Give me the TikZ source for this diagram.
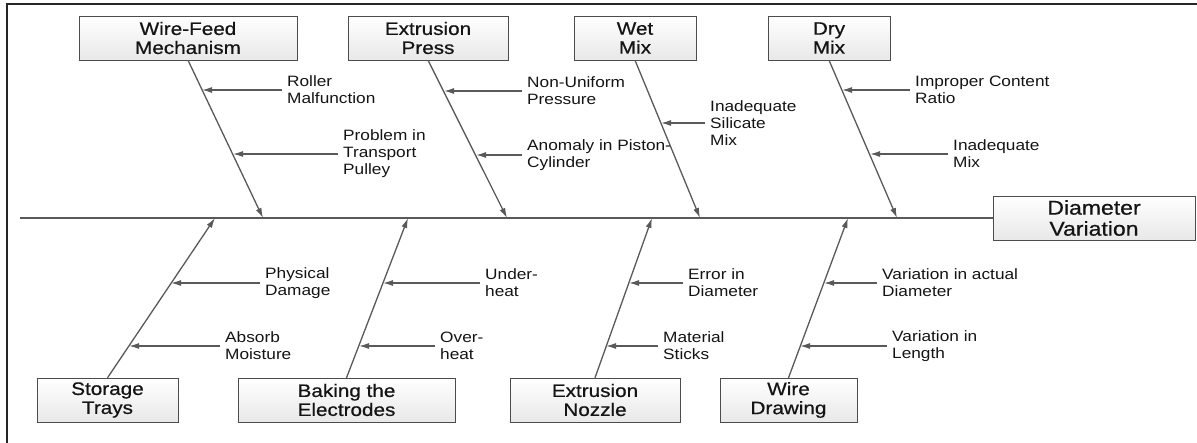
\documentclass[tikz,border=0pt]{standalone}
\usepackage{fontspec}
\newfontfamily\fishfont[FakeStretch=1.15]{Liberation Sans}
\newfontfamily\boxfont[FakeStretch=1.15,FakeBold=0.6]{Liberation Sans}
\usetikzlibrary{arrows.meta}

\tikzset{
	cause/.style={draw=black!70, top color=white, bottom color=black!9, minimum height=44pt, inner sep=0pt, align=center, text=black!92, font=\boxfont\fontsize{18}{19}\selectfont},
	sub/.style={anchor=west, inner xsep=5pt, inner ysep=0pt, align=left, text=black!92, font=\fishfont\fontsize{15}{17}\selectfont},
	bone/.style={draw=black!65, line width=1.3pt, -{Latex[length=10pt,width=6pt]}},
	spine/.style={draw=black!65, line width=1.3pt},
	frame/.style={draw=black!85, line width=1.5pt}
}

\begin{document}
\begin{tikzpicture}[x=1pt, y=-1pt]
	\useasboundingbox (0,0) rectangle (1197,443);
	\draw[frame] (7,443) -- (7,4) -- (1197,4);

	% effect and spine
	\node (dv) at (1094,218) [cause, minimum width=202pt, font=\boxfont\fontsize{20}{21}\selectfont] {Diameter\\Variation};
	\coordinate (tail) at (20,218);
	\draw[spine] (tail) -- (dv);
	\coordinate (h1) at (263,218);
	\coordinate (h2) at (507,218);
	\coordinate (h3) at (700,218);
	\coordinate (h4) at (897,218);
	\coordinate (h5) at (215,218);
	\coordinate (h6) at (408,218);
	\coordinate (h7) at (652,218);
	\coordinate (h8) at (848,218);

	% upper causes
	\node (wf) at (188,38) [cause, minimum width=218pt] {Wire-Feed\\Mechanism};
	\node (ep) at (428,38) [cause, minimum width=160pt] {Extrusion\\Press};
	\node (wm) at (635,38) [cause, minimum width=122pt] {Wet\\Mix};
	\node (dm) at (829,38) [cause, minimum width=122pt] {Dry\\Mix};
	\draw[bone] (wf.south) -- (h1);
	\draw[bone] (ep.south) -- (h2);
	\draw[bone] (wm.south) -- (h3);
	\draw[bone] (dm.south) -- (h4);

	% lower causes
	\node (st) at (107.5,400) [cause, minimum width=141pt] {Storage\\Trays};
	\node (be) at (346.5,400) [cause, minimum width=217pt] {Baking the\\Electrodes};
	\node (en) at (595,400) [cause, minimum width=170pt] {Extrusion\\Nozzle};
	\node (wd) at (788.5,400) [cause, minimum width=137pt] {Wire\\Drawing};
	\draw[bone] (st.north) -- (h5);
	\draw[bone] (be.north) -- (h6);
	\draw[bone] (en.north) -- (h7);
	\draw[bone] (wd.north) -- (h8);

	% points on the bones
	\coordinate (rm-b) at (202,90);
	\coordinate (tp-b) at (233,154);
	\coordinate (nu-b) at (444,91);
	\coordinate (ap-b) at (476,155);
	\coordinate (is-b) at (661,123);
	\coordinate (ic-b) at (842,90);
	\coordinate (im-b) at (870,154);
	\coordinate (pd-b) at (171,283);
	\coordinate (am-b) at (129,346);
	\coordinate (uh-b) at (383,283);
	\coordinate (oh-b) at (359,346);
	\coordinate (ed-b) at (629,283);
	\coordinate (ms-b) at (606,346);
	\coordinate (va-b) at (824,283);
	\coordinate (vl-b) at (800,346);

	% sub causes
	\node (rm) at (282,90) [sub] {Roller\\Malfunction}				edge[bone](rm-b);
	\node (tp) at (338,154) [sub] {Problem in\\Transport\\Pulley}	edge[bone](tp-b);
	\node (nu) at (522,91) [sub] {Non-Uniform\\Pressure}			edge[bone](nu-b);
	\node (ap) at (522,155) [sub] {Anomaly in Piston-\\Cylinder}	edge[bone](ap-b);
	\node (is) at (705,123) [sub] {Inadequate\\Silicate\\Mix}		edge[bone](is-b);
	\node (ic) at (910,90) [sub] {Improper Content\\Ratio}			edge[bone](ic-b);
	\node (im) at (948,154) [sub] {Inadequate\\Mix}				edge[bone](im-b);
	\node (pd) at (260,283) [sub] {Physical\\Damage}				edge[bone](pd-b);
	\node (am) at (220,346) [sub] {Absorb\\Moisture}				edge[bone](am-b);
	\node (uh) at (480,283) [sub] {Under-\\heat}					edge[bone](uh-b);
	\node (oh) at (435,346) [sub] {Over-\\heat}					edge[bone](oh-b);
	\node (ed) at (683,283) [sub] {Error in\\Diameter}				edge[bone](ed-b);
	\node (ms) at (658,346) [sub] {Material\\Sticks}				edge[bone](ms-b);
	\node (va) at (877,283) [sub] {Variation in actual\\Diameter}	edge[bone](va-b);
	\node (vl) at (887,346) [sub] {Variation in\\Length}			edge[bone](vl-b);
\end{tikzpicture}
\end{document}
